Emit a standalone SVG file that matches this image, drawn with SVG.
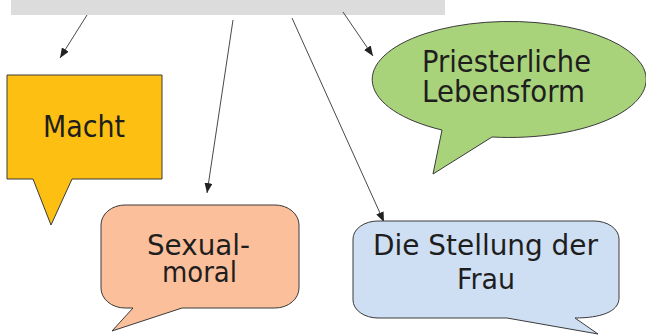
<svg xmlns="http://www.w3.org/2000/svg" width="646" height="335" viewBox="0 0 646 335">
<defs>
<marker id="ah" markerUnits="userSpaceOnUse" markerWidth="12" markerHeight="10" refX="10" refY="4" orient="auto">
<path d="M0,0 L10,4 L0,8 Z" fill="#222"/>
</marker>
<style>
.shape{stroke:#3a3a3a;stroke-width:1;}
.lbl{font-family:"DejaVu Sans","Liberation Sans",sans-serif;font-size:29px;fill:#1e1e1e;}
.big{font-size:31px;}
.conn{stroke:#333;stroke-width:0.9;fill:none;marker-end:url(#ah);}
</style>
</defs>
<rect id="topbar" x="11" y="-1" width="434" height="16" fill="#dcdcdc"/>
<g id="connectors">
<line class="conn" x1="87" y1="15" x2="60" y2="58"/>
<line class="conn" x1="233" y1="20" x2="207" y2="193"/>
<line class="conn" x1="292" y1="18" x2="384" y2="222"/>
<line class="conn" x1="343" y1="12" x2="373" y2="56"/>
</g>
<g id="macht">
<path class="shape" fill="#fdc012" d="M7,75 H162 V179 H72 L51,225 L33,179 H7 Z"/>
<text class="lbl big" x="43" y="137" textLength="82" lengthAdjust="spacingAndGlyphs">Macht</text>
</g>
<g id="sexualmoral">
<path class="shape" fill="#fbc09b" d="M125,205 H275 A24,20 0 0 1 299,225 V288 A24,20 0 0 1 275,308 H182 L112,331 L133,308 H125 A24,20 0 0 1 101,288 V225 A24,20 0 0 1 125,205 Z"/>
<text class="lbl" x="147" y="255" textLength="103" lengthAdjust="spacingAndGlyphs">Sexual-</text>
<text class="lbl" x="162" y="282" textLength="75" lengthAdjust="spacingAndGlyphs">moral</text>
</g>
<g id="priesterliche">
<path class="shape" fill="#a9d37b" d="M492,137 A137,58 0 1 0 442,130 L433,174 Z"/>
<text class="lbl big" x="422" y="72" textLength="169" lengthAdjust="spacingAndGlyphs">Priesterliche</text>
<text class="lbl big" x="422" y="102" textLength="163" lengthAdjust="spacingAndGlyphs">Lebensform</text>
</g>
<g id="frau">
<path class="shape" fill="#cfdff3" d="M378,221 H594 A25,18 0 0 1 619,239 V298 C619,312 600,318 575,318 L598,334 L507,318 H378 A25,18 0 0 1 353,300 V239 A25,18 0 0 1 378,221 Z"/>
<text class="lbl" x="373" y="255" textLength="225" lengthAdjust="spacingAndGlyphs">Die Stellung der</text>
<text class="lbl" x="457" y="289" textLength="58" lengthAdjust="spacingAndGlyphs">Frau</text>
</g>
</svg>
